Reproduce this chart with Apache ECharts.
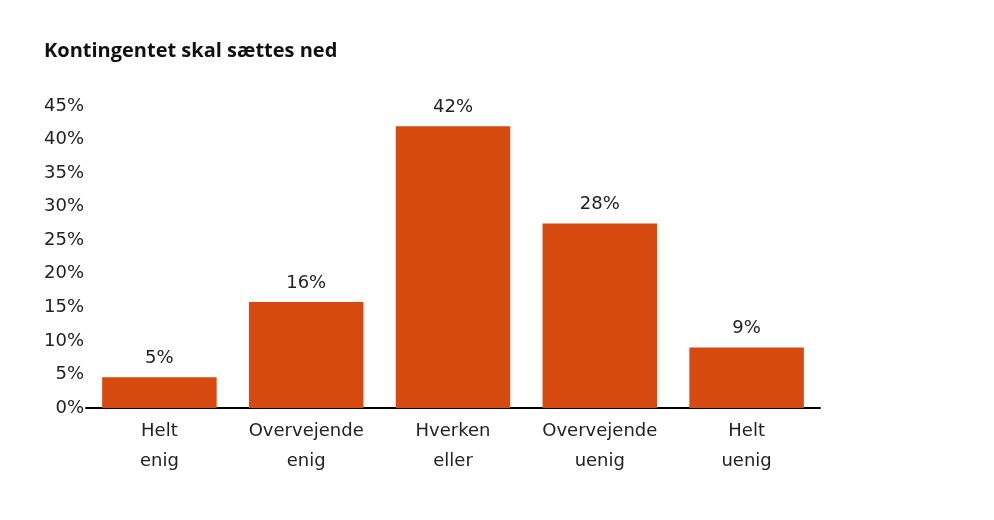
<!DOCTYPE html>
<html>
<head>
<meta charset="utf-8">
<script src="https://cdn.jsdelivr.net/npm/echarts@6/dist/echarts.min.js"></script>
<style>
  html, body { margin: 0; padding: 0; background: #fff; }
  #chart { width: 994px; height: 520px; }
</style>
</head>
<body>
<div id="chart"></div>
<script>
// data
const categories = ['Helt\nenig', 'Overvejende\nenig', 'Hverken\neller', 'Overvejende\nuenig', 'Helt\nuenig']
const values = [4.6, 15.8, 42, 27.5, 9.0]
const yTicks = [0, 5, 10, 15, 20, 25, 30, 35, 40, 45]

const font = '"DejaVu Sans", sans-serif'

const chart = echarts.init(document.getElementById('chart'))

const option = {
  animation: false,
  title: {
    text: 'Kontingentet skal sættes ned',
    left: 39,
    top: 36,
    textStyle: { fontFamily: '"Open Sans", sans-serif', fontSize: 20, fontWeight: 'bold', color: '#111' }
  },
  grid: { left: 86, right: 174, top: 106, bottom: 112 },
  xAxis: {
    type: 'category',
    data: categories,
    axisLine: { lineStyle: { color: '#000', width: 2 } },
    axisTick: { show: false },
    axisLabel: {
      fontFamily: font, fontSize: 18, color: '#222',
      lineHeight: 30, margin: 8, interval: 0
    }
  },
  yAxis: {
    type: 'value',
    min: yTicks[0],
    max: yTicks[yTicks.length - 1],
    interval: 5,
    splitLine: { show: false },
    axisLine: { show: false },
    axisTick: { show: false },
    axisLabel: {
      fontFamily: font, fontSize: 18, color: '#222', margin: 2,
      formatter: v => v + '%'
    }
  },
  series: [{
    type: 'bar',
    data: values,
    barCategoryGap: '22%',
    itemStyle: { color: '#d64a0f' },
    label: {
      show: true,
      position: 'top',
      distance: 10,
      fontFamily: font, fontSize: 18, color: '#222',
      formatter: p => Math.round(p.value) + '%'
    }
  }]
}

chart.setOption(option)
</script>
</body>
</html>
